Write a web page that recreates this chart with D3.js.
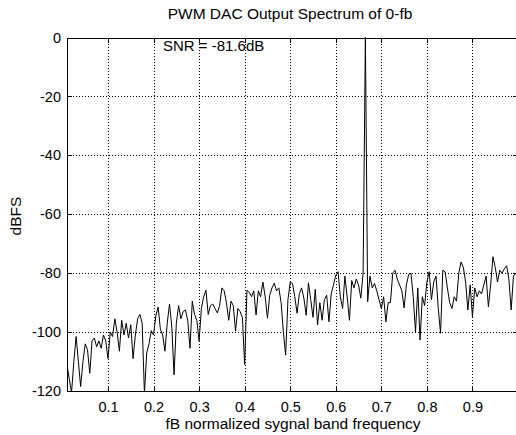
<!DOCTYPE html>
<html>
<head>
<meta charset="utf-8">
<script src="https://cdn.jsdelivr.net/npm/d3@7"></script>
<style>
  body { margin: 0; background: #fff; }
  svg { display: block; font-family: "Liberation Sans", Arial, sans-serif; }
  .grid line { stroke: #000; stroke-width: 1; stroke-dasharray: 1,2; shape-rendering: crispEdges; }
  .axis path, .axis line { stroke: #000; shape-rendering: crispEdges; }
  .axis text { fill: #000; }
</style>
</head>
<body>
<svg></svg>
<script>
var width = 516, height = 435;

// frequency grid: first bin and spacing (normalized to fb)
var freqStart = 0.01, freqStep = 0.005;

// output spectrum, dBFS
var spectrum = [
  -111, -116, -120.5, -110, -101.5, -110, -118.5, -110, -104, -106,
  -114, -103, -102, -105, -103, -105.5, -101, -103, -109, -100,
  -101.5, -95.5, -100, -106.5, -96, -101, -97, -102, -97.5, -109,
  -101, -95.5, -94, -97, -121, -107, -104, -99.5, -101, -94.5,
  -91.5, -99, -101, -106.5, -97, -90.5, -98, -114.5, -97, -91,
  -95.5, -93, -92.5, -96, -105.5, -89.5, -94, -96, -103, -92,
  -88, -85.8, -94, -91, -90.5, -92, -93.5, -91, -85, -86,
  -90, -96, -89.5, -91, -99.7, -92, -93, -95, -111, -85.8,
  -86.5, -88, -86, -94.2, -86, -88, -83, -88, -95.3, -87.5,
  -85, -83.4, -86, -85, -90, -100, -107.8, -89, -83, -83.5,
  -88, -93.6, -87, -85, -88.5, -94.3, -83.3, -89, -95, -85.5,
  -97.6, -90, -96, -89, -87.5, -96.5, -87, -84, -80.7, -79.5,
  -88, -92, -81, -88, -96, -82.5, -85, -82, -84, -88.5,
  -80, 0, -89.7, -81, -85, -83.5, -86, -89, -92, -88,
  -96.5, -90, -90, -80, -79, -82, -84, -86, -91.8, -84,
  -80.5, -80, -88, -100, -85, -102.7, -88, -91, -83, -79.5,
  -89, -83, -81, -92, -100.4, -79, -79.5, -85, -90, -92,
  -88, -89.5, -80, -76.2, -78, -83, -92.5, -84, -94.8, -85,
  -88, -86, -87, -84, -81, -91.4, -84, -74.4, -78, -83,
  -79, -80, -78.5, -77.5, -82, -92.5, -81, -80, -79.5
];

var xTicks = [0.1, 0.2, 0.3, 0.4, 0.5, 0.6, 0.7, 0.8, 0.9];
var yTicks = [0, -20, -40, -60, -80, -100, -120];

var titleText = "PWM DAC Output Spectrum of 0-fb";
var xLabel = "fB normalized sygnal band frequency";
var yLabel = "dBFS";
var snrText = "SNR = -81.6dB";

var points = spectrum.map(function(v, i) {
  return { f: freqStart + i * freqStep, db: v };
});

var plotL = 67, plotR = 518, plotT = 37.5, plotB = 391;

var x = d3.scaleLinear().domain([0.01, 1]).range([plotL, plotR]);
var y = d3.scaleLinear().domain([-120, 0]).range([plotB, plotT]);

var svg = d3.select("svg").attr("width", width).attr("height", height);

svg.append("defs").append("clipPath").attr("id", "plot")
  .append("rect")
  .attr("x", plotL).attr("y", plotT - 1)
  .attr("width", plotR - plotL).attr("height", plotB - plotT + 2);

// grid
var grid = svg.append("g").attr("class", "grid");
grid.selectAll(".vx").data(xTicks).enter().append("line")
  .attr("x1", function(d){ return Math.round(x(d)) + 0.5; })
  .attr("x2", function(d){ return Math.round(x(d)) + 0.5; })
  .attr("y1", plotT).attr("y2", plotB);
grid.selectAll(".hy").data(yTicks.filter(function(d){ return d > -120 && d < 0; }))
  .enter().append("line")
  .attr("y1", function(d){ return Math.round(y(d)) + 0.5; })
  .attr("y2", function(d){ return Math.round(y(d)) + 0.5; })
  .attr("x1", plotL).attr("x2", plotR);

// axes, matlab style ticks pointing in
svg.append("g").attr("class", "axis")
  .attr("transform", "translate(0," + plotB + ")")
  .call(d3.axisBottom(x).tickValues(xTicks).tickSizeInner(-5).tickSizeOuter(0).tickPadding(11)
    .tickFormat(d3.format(".1f")));
svg.append("g").attr("class", "axis")
  .attr("transform", "translate(0," + plotT + ")")
  .call(d3.axisTop(x).tickValues(xTicks).tickSizeInner(-5).tickSizeOuter(0).tickFormat(""));
svg.append("g").attr("class", "axis")
  .attr("transform", "translate(" + plotL + ",0)")
  .call(d3.axisLeft(y).tickValues(yTicks).tickSizeInner(-5).tickSizeOuter(0).tickPadding(6)
    .tickFormat(function(d){ return String(d); }));
svg.append("g").attr("class", "axis")
  .attr("transform", "translate(" + plotR + ",0)")
  .call(d3.axisRight(y).tickValues(yTicks).tickSizeInner(-5).tickSizeOuter(0).tickFormat(""));

svg.selectAll(".axis text").style("font-size", "14.5px").style("font-family", "Liberation Sans, Arial, sans-serif");

// spectrum line
var line = d3.line()
  .x(function(d){ return x(d.f); })
  .y(function(d){ return y(d.db); });

svg.append("path")
  .datum(points)
  .attr("clip-path", "url(#plot)")
  .attr("fill", "none")
  .attr("stroke", "#000")
  .attr("stroke-width", 1)
  .attr("d", line);

// texts
svg.append("text")
  .attr("x", 290).attr("y", 19)
  .attr("text-anchor", "middle")
  .style("font-size", "15.5px")
  .text(titleText);

svg.append("text")
  .attr("x", 293).attr("y", 429)
  .attr("text-anchor", "middle")
  .style("font-size", "15.5px")
  .text(xLabel);

svg.append("text")
  .attr("transform", "translate(21,216) rotate(-90)")
  .attr("text-anchor", "middle")
  .style("font-size", "15.5px")
  .text(yLabel);

svg.append("text")
  .attr("x", 163).attr("y", 51)
  .style("font-size", "15px")
  .text(snrText);
</script>
</body>
</html>
